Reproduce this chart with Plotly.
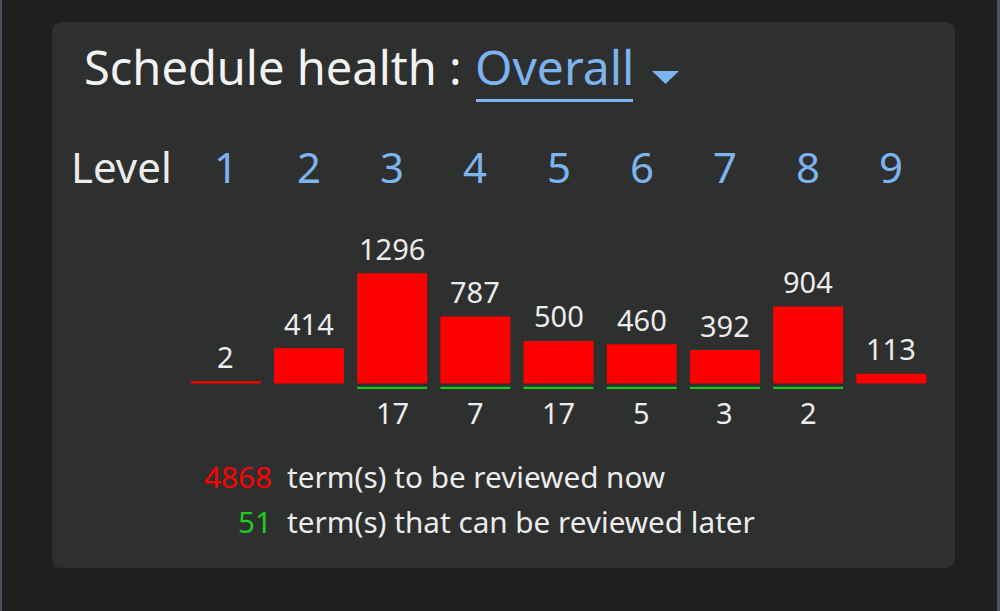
import plotly.graph_objects as go
import numpy as np

# ---- data ----
levels = [1, 2, 3, 4, 5, 6, 7, 8, 9]
level_labels = ["1", "2", "3", "4", "5", "6", "7", "8", "9"]
review_now = [2, 414, 1296, 787, 500, 460, 392, 904, 113]
review_later = [0, 0, 17, 7, 17, 5, 3, 2, 0]
title_text = "Schedule health :"
selector_text = "Overall"
now_text = "term(s) to be reviewed now"
later_text = "term(s) that can be reviewed later"

# ---- style ----
W, H = 1000, 611
FONT = "Noto Sans"
WHITE = "#ececec"
BLUE = "#7db3ee"
RED = "#ff0000"
GREEN = "#1fc41f"
OUTER = "#1f1f1f"
PANEL = "#2e2f2f"

PX_PER_UNIT = 0.085          # vertical scale (px per term)
BASE_PX = 383.4              # baseline pixel row
STEP_PX = 83.19              # px per level
L1_PX = 225.8                # pixel column of level 1
MIN_H = 24                   # minimum visible bar height (units ≈ 2px)
GAP = 39                     # gap between baseline and green marks (units)

y_top = BASE_PX / PX_PER_UNIT
y_bot = -(H - BASE_PX) / PX_PER_UNIT
x_min = levels[0] - L1_PX / STEP_PX
x_max = x_min + W / STEP_PX

now_arr = np.array(review_now, dtype=float)
later_arr = np.array(review_later, dtype=float)
now_disp = np.maximum(now_arr, MIN_H)
later_mask = later_arr > 0
later_disp = np.where(later_mask, np.maximum(later_arr, 27), 0)

fig = go.Figure()
fig.add_trace(go.Bar(
    x=levels, y=now_disp, base=0, width=0.841,
    marker=dict(color=RED, line=dict(width=0)),
    hovertext=[str(v) for v in review_now], hoverinfo="text",
))
lx = [l for l, m in zip(levels, later_mask) if m]
fig.add_trace(go.Bar(
    x=lx, y=[-d for d, m in zip(later_disp, later_mask) if m],
    base=-GAP, width=0.841,
    marker=dict(color=GREEN, line=dict(width=0)),
    hovertext=[str(int(v)) for v, m in zip(review_later, later_mask) if m], hoverinfo="text",
))

ann = []
# value labels above red bars
for l, v, d in zip(levels, review_now, now_disp):
    ann.append(dict(x=l, y=d, xref="x", yref="y", text=str(v), showarrow=False,
                    yanchor="middle", yshift=25,
                    font=dict(family=FONT, size=29, color=WHITE)))
# value labels below green marks
for l, v, d, m in zip(levels, review_later, later_disp, later_mask):
    if m:
        ann.append(dict(x=l, y=-GAP - d, xref="x", yref="y", text=str(v), showarrow=False,
                        yanchor="middle", yshift=-23,
                        font=dict(family=FONT, size=29, color=WHITE)))
# level header
for l, t in zip(levels, level_labels):
    ann.append(dict(x=l, y=1 - 166 / H, xref="x", yref="paper", text=t, showarrow=False,
                    yanchor="middle", font=dict(family=FONT, size=42, color=BLUE)))
ann.append(dict(x=174 / W, y=1 - 166 / H, xref="paper", yref="paper", text="Level",
                showarrow=False, xanchor="right", yanchor="middle",
                font=dict(family=FONT, size=42, color=WHITE)))
# title
ann.append(dict(x=82 / W, y=1 - 67 / H, xref="paper", yref="paper", text=title_text,
                showarrow=False, xanchor="left", yanchor="middle",
                font=dict(family=FONT, size=47, color="#f2f2f2")))
ann.append(dict(x=473 / W, y=1 - 67 / H, xref="paper", yref="paper", text=selector_text,
                showarrow=False, xanchor="left", yanchor="middle",
                font=dict(family=FONT, size=48, color=BLUE)))
# footer
total_now = int(sum(review_now))
total_later = int(sum(review_later))
for yy, num, col, txt in [(476, total_now, RED, now_text), (521, total_later, "#22c922", later_text)]:
    ann.append(dict(x=274 / W, y=1 - yy / H, xref="paper", yref="paper", text=str(num),
                    showarrow=False, xanchor="right", yanchor="middle",
                    font=dict(family=FONT, size=29.7, color=col)))
    ann.append(dict(x=285 / W, y=1 - yy / H, xref="paper", yref="paper", text=txt,
                    showarrow=False, xanchor="left", yanchor="middle",
                    font=dict(family=FONT, size=29.7, color=WHITE)))

def px(x):
    return x / W

def py(y):
    return 1 - y / H

# rounded panel path
x0, x1, y0, y1, r = 52, 955, 22, 568, 10
path = (f"M {px(x0 + r)},{py(y0)} L {px(x1 - r)},{py(y0)} "
        f"Q {px(x1)},{py(y0)} {px(x1)},{py(y0 + r)} "
        f"L {px(x1)},{py(y1 - r)} Q {px(x1)},{py(y1)} {px(x1 - r)},{py(y1)} "
        f"L {px(x0 + r)},{py(y1)} Q {px(x0)},{py(y1)} {px(x0)},{py(y1 - r)} "
        f"L {px(x0)},{py(y0 + r)} Q {px(x0)},{py(y0)} {px(x0 + r)},{py(y0)} Z")
shapes = [
    dict(type="path", path=path, xref="paper", yref="paper", layer="below",
         fillcolor=PANEL, line=dict(width=0)),
    dict(type="rect", xref="paper", yref="paper", x0=0, x1=px(2), y0=0, y1=1,
         fillcolor="#475563", line=dict(width=0), layer="below"),
    dict(type="rect", xref="paper", yref="paper", x0=px(997), x1=1, y0=0, y1=1,
         fillcolor="#475563", line=dict(width=0), layer="below"),
    # underline of selector
    dict(type="rect", xref="paper", yref="paper", x0=px(476), x1=px(633),
         y0=py(102), y1=py(99), fillcolor=BLUE, line=dict(width=0)),
    # dropdown triangle
    dict(type="path", xref="paper", yref="paper",
         path=f"M {px(652)},{py(71)} L {px(679)},{py(71)} L {px(665.5)},{py(84)} Z",
         fillcolor=BLUE, line=dict(width=0)),
]

fig.update_layout(
    width=W, height=H,
    margin=dict(l=0, r=0, t=0, b=0),
    paper_bgcolor=OUTER, plot_bgcolor="rgba(0,0,0,0)",
    showlegend=False, barmode="overlay",
    xaxis=dict(range=[x_min, x_max], visible=False, fixedrange=True, domain=[0, 1]),
    yaxis=dict(range=[y_bot, y_top], visible=False, fixedrange=True, domain=[0, 1]),
    annotations=ann, shapes=shapes,
    font=dict(family=FONT),
)
fig.write_html(
    "out.html",
    config={"displayModeBar": False},
    post_script="document.body.style.margin='0';document.body.style.background='#1f1f1f';"
                "document.documentElement.style.overflow='hidden';",
)
